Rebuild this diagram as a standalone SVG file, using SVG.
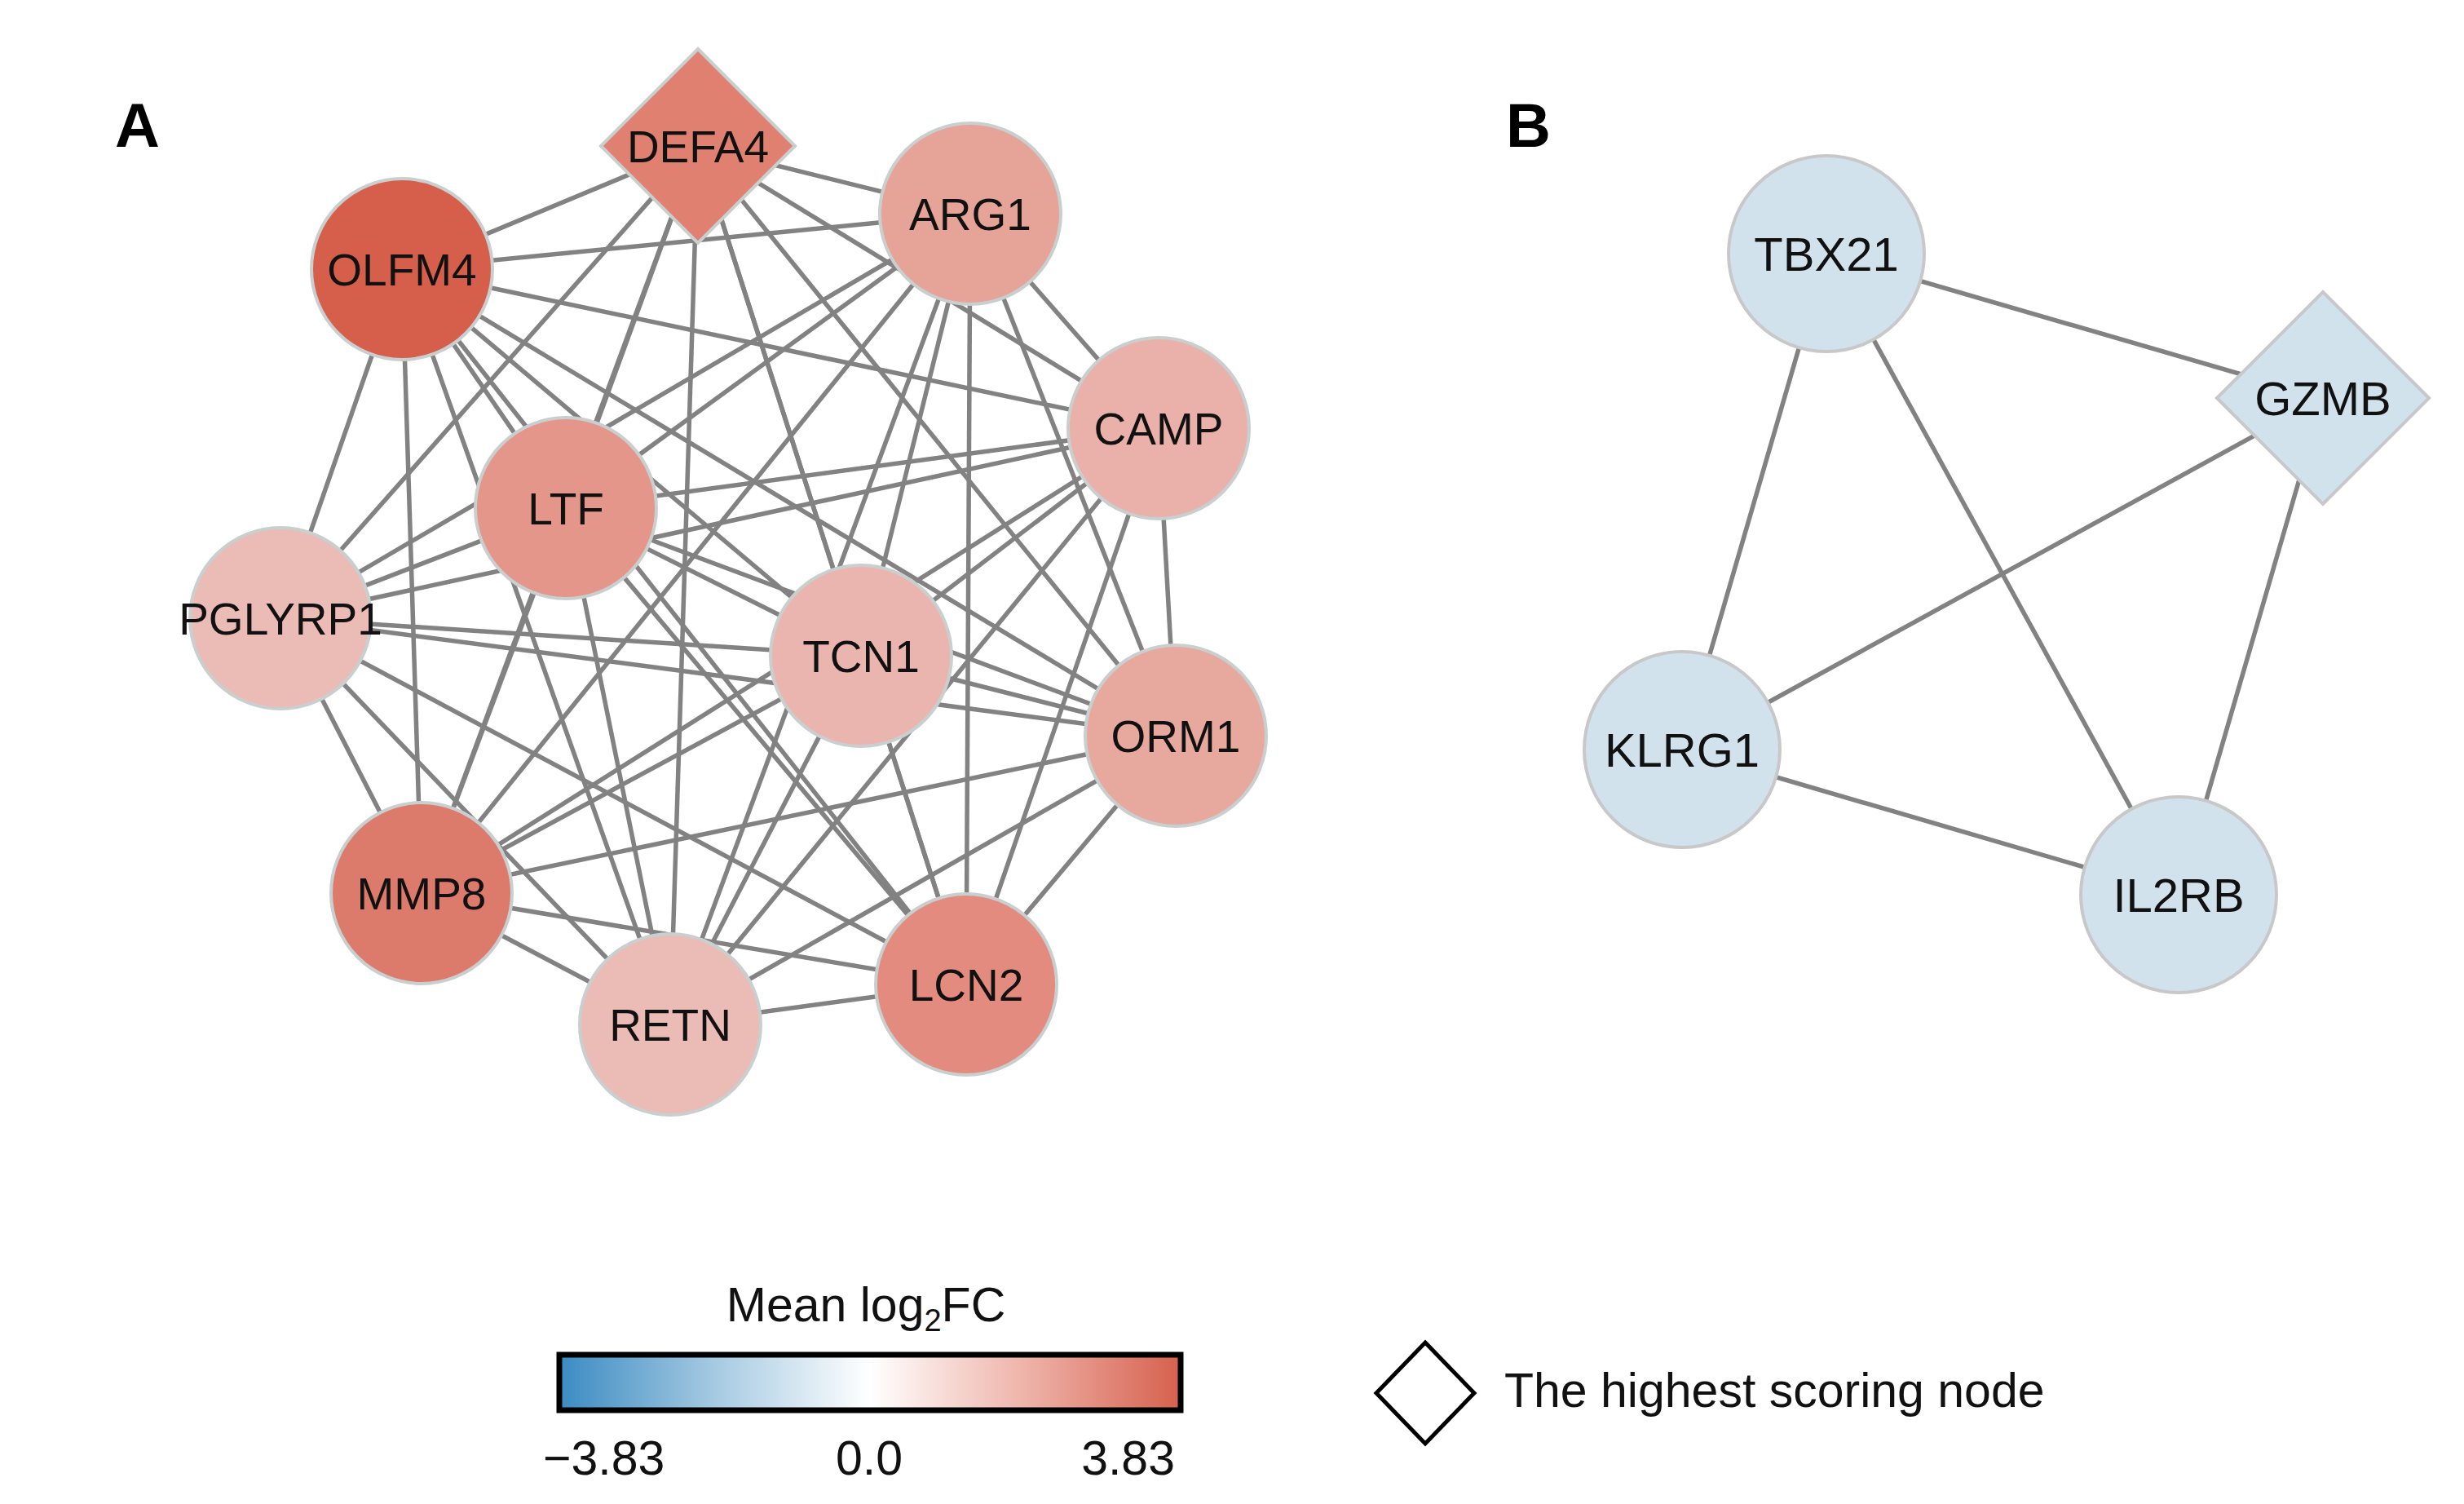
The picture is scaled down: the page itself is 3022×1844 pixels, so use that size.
<svg xmlns="http://www.w3.org/2000/svg" width="3022" height="1844" viewBox="0 0 3022 1844">
<style>
.bg{fill:#ffffff}
.e{stroke:#828282;stroke-width:5.5;fill:none}
.n{stroke:#c9cfcf;stroke-width:4}
.nb{stroke:#c8c8c8;stroke-width:4;fill:#d2e2ed}
.t{font-family:"Liberation Sans",Arial,sans-serif;font-size:55px;fill:#111;text-anchor:middle}
.tb{font-family:"Liberation Sans",Arial,sans-serif;font-size:58px;fill:#111;text-anchor:middle}
.lab{font-family:"Liberation Sans",Arial,sans-serif;font-size:76px;font-weight:bold;fill:#000}
.lg{font-family:"Liberation Sans",Arial,sans-serif;font-size:59px;fill:#111}
</style>
<defs>
<linearGradient id="cb" x1="0" y1="0" x2="1" y2="0">
<stop offset="0" stop-color="#3b8bc2"/>
<stop offset="0.25" stop-color="#a6cae2"/>
<stop offset="0.5" stop-color="#ffffff"/>
<stop offset="0.75" stop-color="#eeb3a9"/>
<stop offset="1" stop-color="#d6604d"/>
</linearGradient>
</defs>
<rect class="bg" x="0" y="0" width="3022" height="1844"/>
<text class="lab" x="141" y="180">A</text>
<text class="lab" x="1847" y="180">B</text>
<g id="connectors">
<!-- Panel A: OLFM4 -->
<line class="e" x1="493" y1="330" x2="856" y2="179"/>
<line class="e" x1="493" y1="330" x2="1190" y2="262"/>
<line class="e" x1="493" y1="330" x2="1421" y2="525"/>
<line class="e" x1="493" y1="330" x2="694" y2="623"/>
<line class="e" x1="493" y1="330" x2="344" y2="758"/>
<line class="e" x1="493" y1="330" x2="1056" y2="804"/>
<line class="e" x1="493" y1="330" x2="1442" y2="902"/>
<line class="e" x1="493" y1="330" x2="517" y2="1095"/>
<line class="e" x1="493" y1="330" x2="822" y2="1256"/>
<line class="e" x1="493" y1="330" x2="1185" y2="1207"/>
<!-- DEFA4 -->
<line class="e" x1="856" y1="179" x2="1190" y2="262"/>
<line class="e" x1="856" y1="179" x2="1421" y2="525"/>
<line class="e" x1="856" y1="179" x2="694" y2="623"/>
<line class="e" x1="856" y1="179" x2="344" y2="758"/>
<line class="e" x1="856" y1="179" x2="1056" y2="804"/>
<line class="e" x1="856" y1="179" x2="1442" y2="902"/>
<line class="e" x1="856" y1="179" x2="517" y2="1095"/>
<line class="e" x1="856" y1="179" x2="822" y2="1256"/>
<line class="e" x1="856" y1="179" x2="1185" y2="1207"/>
<!-- ARG1 -->
<line class="e" x1="1190" y1="262" x2="1421" y2="525"/>
<line class="e" x1="1190" y1="262" x2="694" y2="623"/>
<line class="e" x1="1190" y1="262" x2="344" y2="758"/>
<line class="e" x1="1190" y1="262" x2="1056" y2="804"/>
<line class="e" x1="1190" y1="262" x2="1442" y2="902"/>
<line class="e" x1="1190" y1="262" x2="517" y2="1095"/>
<line class="e" x1="1190" y1="262" x2="822" y2="1256"/>
<line class="e" x1="1190" y1="262" x2="1185" y2="1207"/>
<!-- CAMP -->
<line class="e" x1="1421" y1="525" x2="694" y2="623"/>
<line class="e" x1="1421" y1="525" x2="344" y2="758"/>
<line class="e" x1="1421" y1="525" x2="1056" y2="804"/>
<line class="e" x1="1421" y1="525" x2="1442" y2="902"/>
<line class="e" x1="1421" y1="525" x2="517" y2="1095"/>
<line class="e" x1="1421" y1="525" x2="822" y2="1256"/>
<line class="e" x1="1421" y1="525" x2="1185" y2="1207"/>
<!-- LTF -->
<line class="e" x1="694" y1="623" x2="344" y2="758"/>
<line class="e" x1="694" y1="623" x2="1056" y2="804"/>
<line class="e" x1="694" y1="623" x2="1442" y2="902"/>
<line class="e" x1="694" y1="623" x2="517" y2="1095"/>
<line class="e" x1="694" y1="623" x2="822" y2="1256"/>
<line class="e" x1="694" y1="623" x2="1185" y2="1207"/>
<!-- PGLYRP1 -->
<line class="e" x1="344" y1="758" x2="1056" y2="804"/>
<line class="e" x1="344" y1="758" x2="1442" y2="902"/>
<line class="e" x1="344" y1="758" x2="517" y2="1095"/>
<line class="e" x1="344" y1="758" x2="822" y2="1256"/>
<line class="e" x1="344" y1="758" x2="1185" y2="1207"/>
<!-- TCN1 -->
<line class="e" x1="1056" y1="804" x2="1442" y2="902"/>
<line class="e" x1="1056" y1="804" x2="517" y2="1095"/>
<line class="e" x1="1056" y1="804" x2="822" y2="1256"/>
<line class="e" x1="1056" y1="804" x2="1185" y2="1207"/>
<!-- ORM1 -->
<line class="e" x1="1442" y1="902" x2="517" y2="1095"/>
<line class="e" x1="1442" y1="902" x2="822" y2="1256"/>
<line class="e" x1="1442" y1="902" x2="1185" y2="1207"/>
<!-- MMP8 -->
<line class="e" x1="517" y1="1095" x2="822" y2="1256"/>
<line class="e" x1="517" y1="1095" x2="1185" y2="1207"/>
<!-- RETN -->
<line class="e" x1="822" y1="1256" x2="1185" y2="1207"/>
<!-- Panel B -->
<line class="e" x1="2240" y1="311" x2="2849" y2="488"/>
<line class="e" x1="2240" y1="311" x2="2063" y2="919"/>
<line class="e" x1="2240" y1="311" x2="2672" y2="1097"/>
<line class="e" x1="2849" y1="488" x2="2063" y2="919"/>
<line class="e" x1="2849" y1="488" x2="2672" y2="1097"/>
<line class="e" x1="2063" y1="919" x2="2672" y2="1097"/>
</g>
<g id="node-OLFM4"><circle class="n" cx="493" cy="330" r="111" fill="#d65f4b"/><text class="t" x="493" y="350">OLFM4</text></g>
<g id="node-DEFA4"><polygon class="n" points="856,60 975,179 856,298 737,179" fill="#e08070"/><text class="t" x="856" y="199">DEFA4</text></g>
<g id="node-ARG1"><circle class="n" cx="1190" cy="262" r="111" fill="#e6a398"/><text class="t" x="1190" y="282">ARG1</text></g>
<g id="node-CAMP"><circle class="n" cx="1421" cy="525" r="111" fill="#e9b1a9"/><text class="t" x="1421" y="545">CAMP</text></g>
<g id="node-LTF"><circle class="n" cx="694" cy="623" r="111" fill="#e39689"/><text class="t" x="694" y="643">LTF</text></g>
<g id="node-PGLYRP1"><circle class="n" cx="344" cy="758" r="111" fill="#ebbcb5"/><text class="t" x="344" y="778">PGLYRP1</text></g>
<g id="node-TCN1"><circle class="n" cx="1056" cy="804" r="111" fill="#eab5ae"/><text class="t" x="1056" y="824">TCN1</text></g>
<g id="node-ORM1"><circle class="n" cx="1442" cy="902" r="111" fill="#e7a89e"/><text class="t" x="1442" y="922">ORM1</text></g>
<g id="node-MMP8"><circle class="n" cx="517" cy="1095" r="111" fill="#dc7b6c"/><text class="t" x="517" y="1115">MMP8</text></g>
<g id="node-RETN"><circle class="n" cx="822" cy="1256" r="111" fill="#ebbcb5"/><text class="t" x="822" y="1276">RETN</text></g>
<g id="node-LCN2"><circle class="n" cx="1185" cy="1207" r="111" fill="#e28b7e"/><text class="t" x="1185" y="1227">LCN2</text></g>
<g id="node-TBX21"><circle class="nb" cx="2240" cy="311" r="120"/><text class="tb" x="2240" y="332">TBX21</text></g>
<g id="node-GZMB"><polygon class="nb" points="2849,358 2979,488 2849,618 2719,488"/><text class="tb" x="2849" y="509">GZMB</text></g>
<g id="node-KLRG1"><circle class="nb" cx="2063" cy="919" r="120"/><text class="tb" x="2063" y="940">KLRG1</text></g>
<g id="node-IL2RB"><circle class="nb" cx="2672" cy="1097" r="120"/><text class="tb" x="2672" y="1118">IL2RB</text></g>
<g id="legend">
<text class="lg" x="1062" y="1620" text-anchor="middle">Mean log<tspan font-size="38" dy="12">2</tspan><tspan dy="-12">FC</tspan></text>
<rect x="686" y="1661" width="762" height="68" fill="url(#cb)" stroke="#000" stroke-width="7"/>
<text class="lg" x="666" y="1808">−3.83</text>
<text class="lg" x="1066" y="1808" text-anchor="middle">0.0</text>
<text class="lg" x="1441" y="1808" text-anchor="end">3.83</text>
<polygon points="1748,1646 1808,1708 1748,1770 1688,1708" fill="#fff" stroke="#000" stroke-width="5"/>
<text class="lg" x="1845" y="1725" font-size="62">The highest scoring node</text>
</g>
</svg>
